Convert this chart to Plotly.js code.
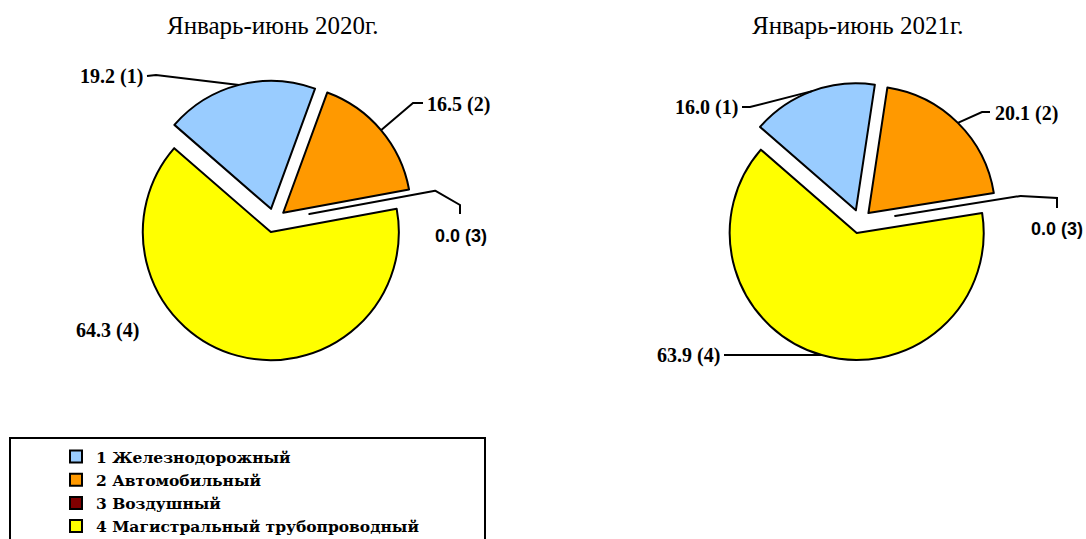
<!DOCTYPE html>
<html><head><meta charset="utf-8">
<script src="https://cdn.plot.ly/plotly-3.0.1.min.js"></script>
<style>body{margin:0;background:#fff}</style>
</head><body><div id="chart" style="width:1086px;height:539px"></div>
<script>
// ---- data ----
const categories = ['1 Железнодорожный', '2 Автомобильный', '3 Воздушный', '4 Магистральный трубопроводный'];
const colors = ['#99CCFF', '#FF9900', '#800000', '#FFFF00'];
const titles = ['Январь-июнь 2020г.', 'Январь-июнь 2021г.'];
const values2020 = [19.2, 16.5, 0.0, 64.3];
const values2021 = [16.0, 20.1, 0.0, 63.9];
const sliceNumbers = ['(1)', '(2)', '(3)', '(4)'];

// ---- layout geometry ----
const W = 1086, H = 539;
const pulls = [0.094, 0.094, 0.28, 0.094];
const rotation = -49;
const maxPull = Math.max(...pulls);
const pies = [
  {values: values2020, title: titles[0], cx: 274, cy: 220.5, r: 128, tx: 273},
  {values: values2021, title: titles[1], cx: 860, cy: 221.5, r: 127, tx: 858}
];
const px = x => x / W;
const py = y => 1 - y / H;

function slicePoint(p, i, frac) {
  const tot = p.values.reduce((a, b) => a + b, 0);
  let cum = 0;
  for (let j = 0; j < i; j++) cum += p.values[j];
  const a = (rotation + 360 * (cum + p.values[i] / 2) / tot) * Math.PI / 180;
  const d = pulls[i] * p.r + frac * p.r;
  return [p.cx + Math.sin(a) * d, p.cy - Math.cos(a) * d];
}

const traces = pies.map((p, k) => {
  const half = p.r * (1 + maxPull);
  return {
    type: 'pie',
    labels: categories,
    values: p.values,
    sort: false,
    direction: 'clockwise',
    rotation: rotation,
    pull: pulls,
    textinfo: 'none',
    hoverinfo: 'label+value',
    marker: {colors: colors, line: {color: '#000', width: 2}},
    domain: {x: [px(p.cx - half), px(p.cx + half)], y: [py(p.cy + half), py(p.cy - half)]},
    showlegend: k === 0
  };
});

// label placement (pixel anchors for text) per pie
const labelSpec = [
  [
    {x: 145, y: 77, anchor: 'right', elbow: [[147, 76], [156, 75]]},
    {x: 425, y: 104, anchor: 'left', elbow: [[423, 103], [413, 103]]},
    {x: 433, y: 236, anchor: 'left', elbow: [[460, 214], [460, 205]], sans: true},
    {x: 141, y: 330, anchor: 'right', elbow: null}
  ],
  [
    {x: 740, y: 108, anchor: 'right', elbow: [[742, 107], [750, 107]]},
    {x: 993, y: 113, anchor: 'left', elbow: [[990, 112], [982, 112]]},
    {x: 1029, y: 229, anchor: 'left', elbow: [[1057, 208], [1057, 198]], sans: true},
    {x: 722, y: 355, anchor: 'right', elbow: [[724, 355]]}
  ]
];

const annotations = [];
const shapes = [];
pies.forEach((p, k) => {
  annotations.push({
    text: p.title, xref: 'paper', yref: 'paper', x: px(p.tx), y: py(25),
    xanchor: 'center', yanchor: 'middle', showarrow: false,
    font: {family: 'Liberation Serif, serif', size: 25, color: '#000'}
  });
  p.values.forEach((v, i) => {
    const s = labelSpec[k][i];
    annotations.push({
      text: v.toFixed(1) + ' ' + sliceNumbers[i], xref: 'paper', yref: 'paper',
      x: px(s.x), y: py(s.y), xanchor: s.anchor, yanchor: 'middle', showarrow: false,
      font: {family: s.sans ? 'Liberation Sans, Arial, sans-serif' : 'Liberation Serif, serif',
             size: s.sans ? 18 : 20, weight: 'bold', color: '#000'}
    });
    if (s.elbow) {
      const end = slicePoint(p, i, 1.0);
      const pts = s.elbow.concat([end]);
      const path = pts.map((q, n) => (n ? 'L' : 'M') + px(q[0]) + ',' + py(q[1])).join(' ');
      shapes.push({type: 'path', xref: 'paper', yref: 'paper', path: path,
                   line: {color: '#000', width: 2}});
    }
  });
});

// legend frame
shapes.push({type: 'rect', xref: 'paper', yref: 'paper', x0: px(10), x1: px(485), y0: py(560), y1: py(438),
             line: {color: '#000', width: 2}, fillcolor: 'rgba(0,0,0,0)'});

const layout = {
  width: W, height: H,
  margin: {l: 0, r: 0, t: 0, b: 0, autoexpand: false},
  paper_bgcolor: '#fff',
  showlegend: true,
  legend: {
    x: px(56), y: py(440), xanchor: 'left', yanchor: 'top',
    font: {family: 'DejaVu Serif, serif', size: 15.5, weight: 'bold', color: '#000'},
    bgcolor: 'rgba(0,0,0,0)', borderwidth: 0, traceorder: 'normal'
  },
  annotations: annotations,
  shapes: shapes
};

Plotly.newPlot('chart', traces, layout, {displayModeBar: false, staticPlot: true});
</script>
</body></html>
